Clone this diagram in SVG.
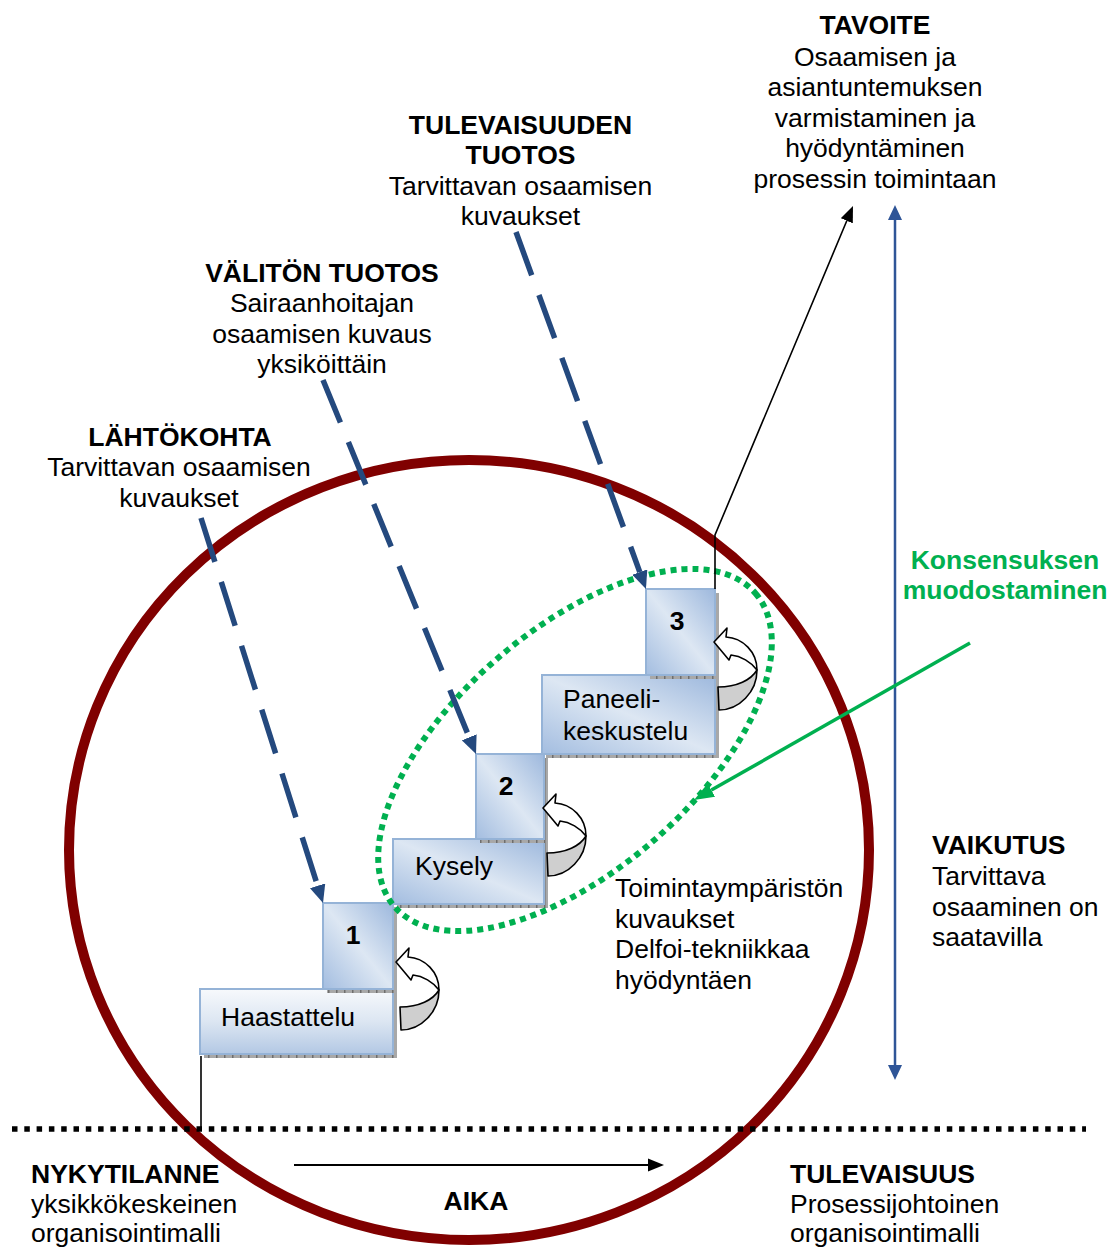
<svg xmlns="http://www.w3.org/2000/svg" width="1108" height="1249" viewBox="0 0 1108 1249">
<defs>
<style>
.t{font-family:"Liberation Sans",Arial,sans-serif;font-size:26.5px;fill:#000}
.b{font-weight:bold}
.c{text-anchor:middle}
.gr{fill:#00B050}
.box{stroke:#95B3D7;stroke-width:2}
.sh{fill:url(#shp)}
.dash{fill:none;stroke:#24497E;stroke-width:5.5;stroke-dasharray:46 21}
.curlw{fill:#fff;stroke:#000;stroke-width:1.6;stroke-linejoin:round}
.curlg{fill:#CFCFCF;stroke:#000;stroke-width:1.6;stroke-linejoin:round}
</style>
<linearGradient id="gd" x1="1" y1="0" x2="0" y2="1">
<stop offset="0" stop-color="#9DB8DD"/>
<stop offset="0.5" stop-color="#DDE7F3"/>
<stop offset="1" stop-color="#A3BDE0"/>
</linearGradient>
<linearGradient id="gv" x1="0" y1="0" x2="0" y2="1">
<stop offset="0" stop-color="#F7F9FC"/>
<stop offset="0.5" stop-color="#DCE6F2"/>
<stop offset="1" stop-color="#B3C8E4"/>
</linearGradient>
<pattern id="shp" width="8" height="8" patternUnits="userSpaceOnUse">
<rect width="8" height="8" fill="#A8A8A8"/>
<rect width="1.5" height="8" fill="#6E6E6E"/>
</pattern>
<marker id="mDash" viewBox="0 -8 18 16" refX="0" refY="0" markerWidth="18" markerHeight="16" markerUnits="userSpaceOnUse" orient="auto">
<path d="M0,-8 L18,0 L0,8 Z" fill="#24497E"/>
</marker>
<marker id="mBlack" viewBox="0 -7 16 14" refX="0" refY="0" markerWidth="16" markerHeight="14" markerUnits="userSpaceOnUse" orient="auto">
<path d="M0,-6.5 L16,0 L0,6.5 Z" fill="#000"/>
</marker>
<marker id="mBlue" viewBox="0 -7 15 14" refX="0" refY="0" markerWidth="15" markerHeight="14" markerUnits="userSpaceOnUse" orient="auto-start-reverse">
<path d="M0,-7 L15,0 L0,7 Z" fill="#2F5597"/>
</marker>
<marker id="mGreen" viewBox="0 -8 20 16" refX="0" refY="0" markerWidth="20" markerHeight="16" markerUnits="userSpaceOnUse" orient="auto">
<path d="M0,-7.5 L20,0 L0,7.5 Z" fill="#00B050"/>
</marker>
<g id="curl">
<path class="curlg" d="M43,28 C43,50 25,68 5,68 L4,45 C23,45 37,38 43,28 Z"/>
<path class="curlw" d="M0,0 L13,-14 L12,-5 C29,-4 43,10 43,28 C37,20 27,14 17,13 L15,18 Z"/>
</g>
</defs>

<rect width="1108" height="1249" fill="#fff"/>

<ellipse id="ring" cx="469" cy="850" rx="400" ry="390" fill="none" stroke="#800000" stroke-width="10"/>

<g id="step1">
<rect class="sh" x="204" y="993" width="193" height="65"/>
<rect class="box" x="200" y="989" width="193" height="65" fill="url(#gv)"/>
<text class="t" x="221" y="1026">Haastattelu</text>
<rect class="sh" x="327" y="907" width="70" height="86"/>
<rect class="box" x="323" y="903" width="70" height="86" fill="url(#gd)"/>
<text class="t b c" x="353" y="944">1</text>
<use href="#curl" x="396" y="962"/>
</g>

<g id="step2">
<rect class="sh" x="397" y="843" width="151" height="65"/>
<rect class="box" x="393" y="839" width="151" height="65" fill="url(#gd)"/>
<text class="t" x="415" y="875">Kysely</text>
<rect class="sh" x="480" y="758" width="68" height="85"/>
<rect class="box" x="476" y="754" width="68" height="85" fill="url(#gd)"/>
<text class="t b c" x="506" y="795">2</text>
<use href="#curl" x="543" y="808"/>
</g>

<g id="step3">
<rect class="sh" x="546" y="679" width="173" height="79"/>
<rect class="box" x="542" y="675" width="173" height="79" fill="url(#gd)"/>
<text class="t" x="563" y="708">Paneeli-</text>
<text class="t" x="563" y="740">keskustelu</text>
<rect class="sh" x="650" y="593" width="69" height="86"/>
<rect class="box" x="646" y="589" width="69" height="86" fill="url(#gd)"/>
<text class="t b c" x="677" y="630">3</text>
<use href="#curl" x="714" y="642"/>
</g>

<g id="consensus-ellipse">
<ellipse cx="575" cy="750" rx="239" ry="120" transform="rotate(-41 575 750)" fill="none" stroke="#00B050" stroke-width="6" stroke-dasharray="6 5"/>
</g>

<g id="connectors">
<line class="dash" x1="201" y1="518" x2="317.6" y2="885.8" marker-end="url(#mDash)"/>
<line class="dash" x1="323" y1="380" x2="469.2" y2="737.3" marker-end="url(#mDash)"/>
<line class="dash" x1="516" y1="232" x2="639.8" y2="572.1" marker-end="url(#mDash)"/>
<polyline points="715,589 715,535 846.8,220.8" fill="none" stroke="#000" stroke-width="1.6" marker-end="url(#mBlack)"/>
<line x1="895" y1="220" x2="895" y2="1065" stroke="#2F5597" stroke-width="2.5" marker-start="url(#mBlue)" marker-end="url(#mBlue)"/>
<line x1="970" y1="643" x2="711.4" y2="790.1" stroke="#00B050" stroke-width="3.5" marker-end="url(#mGreen)"/>
<line x1="201" y1="1056" x2="201" y2="1129" stroke="#000" stroke-width="1.6"/>
<line x1="294" y1="1165" x2="648" y2="1165" stroke="#000" stroke-width="2" marker-end="url(#mBlack)"/>
<line x1="12" y1="1129" x2="1086" y2="1129" stroke="#000" stroke-width="5.5" stroke-dasharray="5.5 6.8"/>
</g>

<g id="tavoite">
<text class="t b c" x="875" y="34">TAVOITE</text>
<text class="t c" x="875" y="65.5">Osaamisen ja</text>
<text class="t c" x="875" y="96">asiantuntemuksen</text>
<text class="t c" x="875" y="126.5">varmistaminen ja</text>
<text class="t c" x="875" y="157">hyödyntäminen</text>
<text class="t c" x="875" y="187.5">prosessin toimintaan</text>
</g>

<g id="tulevaisuuden-tuotos">
<text class="t b c" x="520.5" y="133.5">TULEVAISUUDEN</text>
<text class="t b c" x="520.5" y="164">TUOTOS</text>
<text class="t c" x="520.5" y="194.5">Tarvittavan osaamisen</text>
<text class="t c" x="520.5" y="225">kuvaukset</text>
</g>

<g id="valiton-tuotos">
<text class="t b c" x="322" y="281.5">VÄLITÖN TUOTOS</text>
<text class="t c" x="322" y="312">Sairaanhoitajan</text>
<text class="t c" x="322" y="342.5">osaamisen kuvaus</text>
<text class="t c" x="322" y="373">yksiköittäin</text>
</g>

<g id="lahtokohta">
<text class="t b c" x="180" y="445.5">LÄHTÖKOHTA</text>
<text class="t c" x="179" y="476">Tarvittavan osaamisen</text>
<text class="t c" x="179" y="506.5">kuvaukset</text>
</g>

<g id="konsensus">
<text class="t b c gr" x="1005" y="568.5">Konsensuksen</text>
<text class="t b c gr" x="1005" y="599">muodostaminen</text>
</g>

<g id="vaikutus">
<text class="t b" x="932" y="854">VAIKUTUS</text>
<text class="t" x="932" y="885">Tarvittava</text>
<text class="t" x="932" y="915.5">osaaminen on</text>
<text class="t" x="932" y="946">saatavilla</text>
</g>

<g id="toimintaymparisto">
<text class="t" x="615" y="897">Toimintaympäristön</text>
<text class="t" x="615" y="927.5">kuvaukset</text>
<text class="t" x="615" y="958">Delfoi-tekniikkaa</text>
<text class="t" x="615" y="988.5">hyödyntäen</text>
</g>

<g id="nykytilanne">
<text class="t b" x="31" y="1183">NYKYTILANNE</text>
<text class="t" x="31" y="1213">yksikkökeskeinen</text>
<text class="t" x="31" y="1242">organisointimalli</text>
</g>

<g id="aika">
<text class="t b c" x="476" y="1209.5">AIKA</text>
</g>

<g id="tulevaisuus">
<text class="t b" x="790" y="1183">TULEVAISUUS</text>
<text class="t" x="790" y="1213">Prosessijohtoinen</text>
<text class="t" x="790" y="1242">organisointimalli</text>
</g>
</svg>
